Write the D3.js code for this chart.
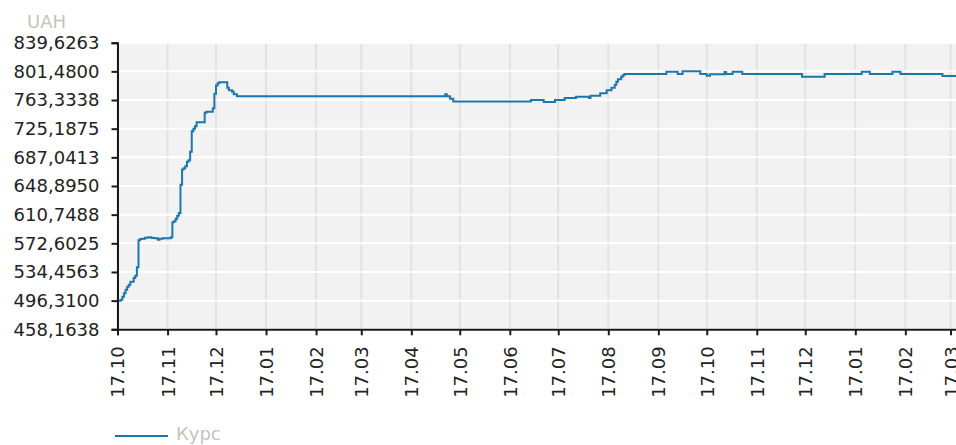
<!DOCTYPE html>
<html>
<head>
<meta charset="utf-8">
<script src="https://cdn.jsdelivr.net/npm/d3@7"></script>
<style>
body { margin: 0; background: #fff; }
text { font-family: "DejaVu Sans", Verdana, sans-serif; }
</style>
</head>
<body>
<svg></svg>
<script>
// write your code here!
var width = 956;
var height = 445;

// series: date of each change and the rate from then on (step line)
var dates = [
	"2013-10-17", "2013-10-19", "2013-10-20", "2013-10-21", "2013-10-22", "2013-10-23",
	"2013-10-24", "2013-10-25", "2013-10-27", "2013-10-28", "2013-10-29", "2013-10-30",
	"2013-10-31", "2013-11-01", "2013-11-03", "2013-11-05", "2013-11-07", "2013-11-09",
	"2013-11-11", "2013-11-12", "2013-11-14", "2013-11-19", "2013-11-20", "2013-11-21",
	"2013-11-22", "2013-11-23", "2013-11-24", "2013-11-25", "2013-11-26", "2013-11-27",
	"2013-11-28", "2013-11-29", "2013-11-30", "2013-12-01", "2013-12-02", "2013-12-03",
	"2013-12-04", "2013-12-05", "2013-12-10", "2013-12-11", "2013-12-15", "2013-12-16",
	"2013-12-17", "2013-12-18", "2013-12-19", "2013-12-24", "2013-12-25", "2013-12-27",
	"2013-12-28", "2013-12-30", "2014-05-08", "2014-05-09", "2014-05-11", "2014-05-13",
	"2014-06-30", "2014-07-08", "2014-07-15", "2014-07-21", "2014-07-28", "2014-08-05",
	"2014-08-06", "2014-08-12", "2014-08-16", "2014-08-19", "2014-08-21", "2014-08-22",
	"2014-08-23", "2014-08-25", "2014-08-26", "2014-08-27", "2014-09-22", "2014-09-29",
	"2014-10-02", "2014-10-13", "2014-10-17", "2014-10-19", "2014-10-28", "2014-10-29",
	"2014-11-02", "2014-11-08", "2014-12-15", "2014-12-29", "2015-01-21", "2015-01-26",
	"2015-02-09", "2015-02-14", "2015-03-12", "2015-03-21"
];
var rates = [
	496.31, 497.6, 501.5, 506.3, 510.9, 514.9,
	517.6, 521.6, 526.3, 529.6, 540.9, 576.8,
	578.2, 578.8, 580.1, 580.8, 579.7, 579.5,
	577.5, 578.8, 579.5, 580.8, 600.8, 602.1,
	605.4, 609.4, 612.8, 650.7, 670.7, 672.6,
	675.3, 681.3, 683.3, 694.6, 721.9, 725.2,
	728.5, 733.9, 746.5, 747.8, 752.5, 771.8,
	782.5, 785.8, 787.1, 779.8, 776.5, 774.5,
	771.1, 768.5, 771.1, 768.5, 765.1, 761.2,
	763.4, 760.8, 763.4, 766.1, 767.8, 766.1,
	769.1, 772.2, 776.2, 779.8, 783.8, 787.8,
	791.1, 794.4, 796.4, 798.0, 800.9, 798.0,
	801.48, 798.0, 795.8, 797.8, 800.6, 798.0,
	800.9, 798.0, 794.4, 798.0, 800.9, 798.0,
	800.9, 798.0, 795.4, 795.4
];

var yTicks = [458.1638, 496.3100, 534.4563, 572.6025, 610.7488, 648.8950,
	687.0413, 725.1875, 763.3338, 801.4800, 839.6263];
var xTicks = [
	"2013-10-17", "2013-11-17", "2013-12-17", "2014-01-17", "2014-02-17", "2014-03-17",
	"2014-04-17", "2014-05-17", "2014-06-17", "2014-07-17", "2014-08-17", "2014-09-17",
	"2014-10-17", "2014-11-17", "2014-12-17", "2015-01-17", "2015-02-17", "2015-03-17"
];
var unitLabel = "UAH";
var seriesName = "Курс";

var parseDate = d3.timeParse("%Y-%m-%d");
var data = dates.map((d, i) => ({ date: parseDate(d), rate: rates[i] }));
var tickDates = xTicks.map(parseDate);

var plotLeft = 117.5, plotRight = 957, plotTop = 42.7, plotBottom = 329.3;
var lineColor = "#1c77ac";

var svg = d3.select("svg")
	.attr("width", width)
	.attr("height", height);

var xScale = d3.scaleTime()
	.domain([parseDate("2013-10-17"), parseDate("2015-03-21")])
	.range([plotLeft, plotRight]);

var yScale = d3.scaleLinear()
	.domain([yTicks[0], yTicks[yTicks.length - 1]])
	.range([plotBottom, plotTop]);

// plot background
svg.append("rect")
	.attr("x", plotLeft)
	.attr("y", plotTop)
	.attr("width", width - plotLeft)
	.attr("height", plotBottom - plotTop)
	.attr("fill", "#f2f2f2");

// grid
svg.append("g")
	.selectAll("line")
	.data(tickDates)
	.enter()
	.append("line")
	.attr("x1", d => xScale(d))
	.attr("x2", d => xScale(d))
	.attr("y1", plotTop)
	.attr("y2", plotBottom)
	.attr("stroke", "#e2e2e2")
	.attr("stroke-width", 2);

svg.append("g")
	.selectAll("line")
	.data(yTicks)
	.enter()
	.append("line")
	.attr("x1", plotLeft)
	.attr("x2", width)
	.attr("y1", d => yScale(d))
	.attr("y2", d => yScale(d))
	.attr("stroke", "#fff")
	.attr("stroke-width", 2);

svg.append("clipPath")
	.attr("id", "plot")
	.append("rect")
	.attr("x", plotLeft)
	.attr("y", plotTop - 2)
	.attr("width", width - plotLeft)
	.attr("height", plotBottom - plotTop + 2);

var line = d3.line()
	.x(d => xScale(d.date))
	.y(d => yScale(d.rate))
	.curve(d3.curveStepAfter);

svg.append("path")
	.datum(data)
	.attr("clip-path", "url(#plot)")
	.attr("d", line)
	.attr("fill", "none")
	.attr("stroke", lineColor)
	.attr("stroke-width", 2);

// axes
var fmtY = v => d3.format(".4f")(v).replace(".", ",");

var yAxis = svg.append("g")
	.attr("transform", `translate(${plotLeft}, 0)`)
	.call(d3.axisLeft(yScale)
		.tickValues(yTicks)
		.tickSize(6)
		.tickPadding(12)
		.tickFormat(fmtY));

var xAxis = svg.append("g")
	.attr("transform", `translate(0, ${plotBottom})`)
	.call(d3.axisBottom(xScale)
		.tickValues(tickDates)
		.tickSize(6)
		.tickFormat(d3.timeFormat("%d.%m")));

xAxis.selectAll("text")
	.attr("transform", "rotate(-90)")
	.attr("x", -17)
	.attr("y", 0)
	.attr("dy", "0.36em")
	.style("text-anchor", "end");

[xAxis, yAxis].forEach(g => {
	g.select(".domain").attr("stroke", "#1a1a1a").attr("stroke-width", 2);
	g.selectAll(".tick line").attr("stroke", "#1a1a1a").attr("stroke-width", 2);
	g.selectAll("text")
		.attr("fill", "#222")
		.style("font-size", "18px")
		.style("font-family", "'DejaVu Sans', Verdana, sans-serif");
});

// unit label
svg.append("text")
	.attr("x", 27)
	.attr("y", 28)
	.attr("fill", "#c4c4bc")
	.style("font-size", "18px")
	.text(unitLabel);

// legend
svg.append("line")
	.attr("x1", 115)
	.attr("x2", 168)
	.attr("y1", 436)
	.attr("y2", 436)
	.attr("stroke", lineColor)
	.attr("stroke-width", 2);

svg.append("text")
	.attr("x", 176)
	.attr("y", 440)
	.attr("fill", "#c4c4bc")
	.style("font-size", "18px")
	.text(seriesName);
</script>
</body>
</html>
